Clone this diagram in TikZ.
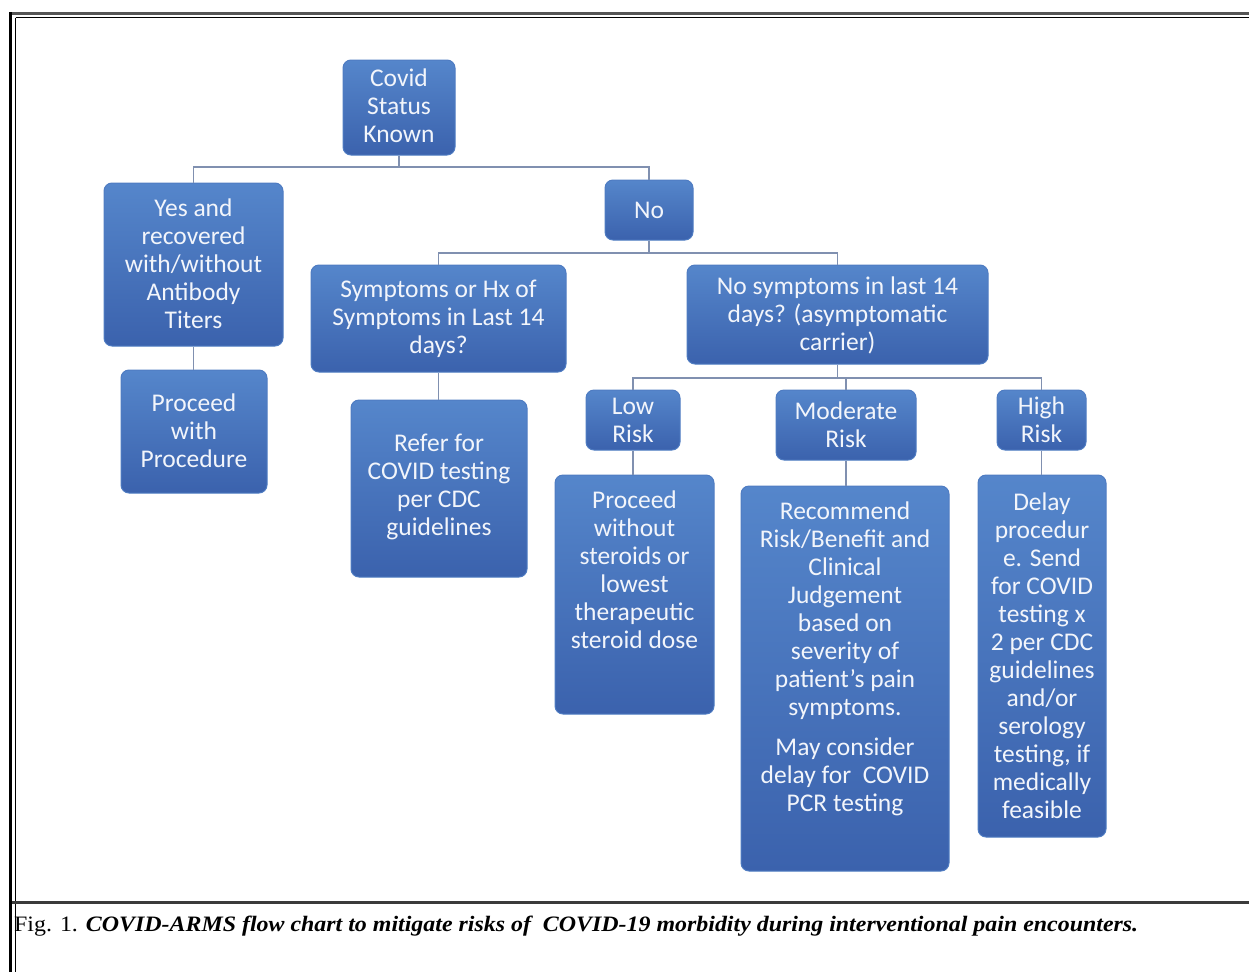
\documentclass[tikz,border=0pt]{standalone}
\usepackage{fontspec}
\usepackage{graphicx}
\setmainfont{Liberation Serif}
\newfontfamily\boxfont{Carlito}
\definecolor{boxtop}{HTML}{5586CB}
\definecolor{boxbot}{HTML}{3B62AD}
\definecolor{boxedge}{HTML}{4F7CC2}
\definecolor{conncol}{HTML}{8090B0}
\definecolor{boxtxt}{HTML}{F2F5FB}
\definecolor{framegray}{HTML}{555555}
\tikzset{
  box/.style={rounded corners=8pt, top color=boxtop, bottom color=boxbot, draw=boxedge, line width=1pt, inner sep=0pt},
  txt/.style={text=boxtxt, font=\boxfont\fontsize{25.5}{28}\selectfont, align=center, inner sep=0pt},
  conn/.style={draw=conncol, line width=1.8pt},
}
\begin{document}
\begin{tikzpicture}[x=1pt,y=-1pt]
\useasboundingbox (0,0) rectangle (1249,972);
% frame
\draw[framegray, line width=3pt] (9,13.5) -- (1249,13.5);
\draw[black, line width=3pt] (10.5,12) -- (10.5,972);
\draw[black, line width=1.2pt] (15.5,17.5) -- (1249,17.5);
\draw[black, line width=1.2pt] (15.5,17.5) -- (15.5,972);
\draw[framegray!70!black, line width=2.5pt] (12,902.5) -- (1249,902.5);

% boxes
\node[box, minimum width=112pt, minimum height=95pt] (b1) at (399,107.5) {};
\node[txt] (t1) at (399,106) {Covid\\Status\\Known};

\node[box, minimum width=179pt, minimum height=163pt] (b2) at (193.5,264.5) {};
\node[txt] (t2) at (193.5,263.5) {Yes and\\recovered\\with/without\\Antibody\\Titers};

\node[box, minimum width=88pt, minimum height=60pt] (b3) at (649,210) {};
\node[txt] (t3) at (649,210) {No};

\node[box, minimum width=255pt, minimum height=107pt] (b4) at (438.5,318.5) {};
\node[txt] (t4) at (438.5,319) {Symptoms or Hx of\\Symptoms in Last 14\\days?};

\node[box, minimum width=301pt, minimum height=99pt] (b5) at (837.5,314.5) {};
\node[txt] (t5) at (837.5,315) {No symptoms in last 14\\days? (asymptomatic\\carrier)};

\node[box, minimum width=146pt, minimum height=123pt] (b6) at (194,431.5) {};
\node[txt] (t6) at (194,431) {Proceed\\with\\Procedure};

\node[box, minimum width=176pt, minimum height=177pt] (b7) at (439,488.5) {};
\node[txt] (t7) at (439,487) {Refer for\\COVID testing\\per CDC\\guidelines};

\node[box, minimum width=94pt, minimum height=60pt] (b8) at (633,420) {};
\node[txt] (t8) at (633,420) {Low\\Risk};

\node[box, minimum width=140pt, minimum height=70pt] (b9) at (846,425) {};
\node[txt] (t9) at (846,425) {Moderate\\Risk};

\node[box, minimum width=89pt, minimum height=60pt] (b10) at (1041.5,420) {};
\node[txt] (t10) at (1041.5,420) {High\\Risk};

\node[box, minimum width=159pt, minimum height=239pt] (b11) at (634.5,594.5) {};
\node[txt] (t11) at (634.5,570) {Proceed\\without\\steroids or\\lowest\\therapeutic\\steroid dose};

\node[box, minimum width=208pt, minimum height=385pt] (b12) at (845,678.5) {};
\node[txt] (t12) at (845,659) {Recommend\\Risk/Benefit and\\Clinical\\Judgement\\based on\\severity of\\patient’s pain\\symptoms.\\[12pt]May consider\\delay for\ \ COVID\\PCR testing};

\node[box, minimum width=128pt, minimum height=362pt] (b13) at (1042,656) {};
\node[txt] (t13) at (1042,655.5) {Delay\\procedur\\e. Send\\for COVID\\testing x\\2 per CDC\\guidelines\\and/or\\serology\\testing, if\\medically\\feasible};

% connectors
\draw[conn] (b1.south) -- (b1.south |- 0,167) -| (b2.north);
\draw[conn] (b1.south |- 0,167) -| (b3.north);
\draw[conn] (b2.south) -- (b6.north -| b2.south);
\draw[conn] (b3.south) -- (b3.south |- 0,253) -| (b4.north);
\draw[conn] (b3.south |- 0,253) -| (b5.north);
\draw[conn] (b4.south) -- (b7.north -| b4.south);
\draw[conn] (b5.south) -- (b5.south |- 0,378) -| (b8.north);
\draw[conn] (b5.south |- 0,378) -| (b9.north);
\draw[conn] (b5.south |- 0,378) -| (b10.north);
\draw[conn] (b8.south) -- (b11.north -| b8.south);
\draw[conn] (b9.south) -- (b12.north -| b9.south);
\draw[conn] (b10.south) -- (b13.north -| b10.south);

% caption
\node[anchor=base west, inner sep=0pt, font=\fontsize{22}{24}\selectfont] (cap) at (14,931)
  {\resizebox{1124pt}{\height}{Fig. 1. \textbf{\textit{COVID-ARMS flow chart to mitigate risks of\ \ COVID-19 morbidity during interventional pain encounters.}}}};
\end{tikzpicture}
\end{document}
